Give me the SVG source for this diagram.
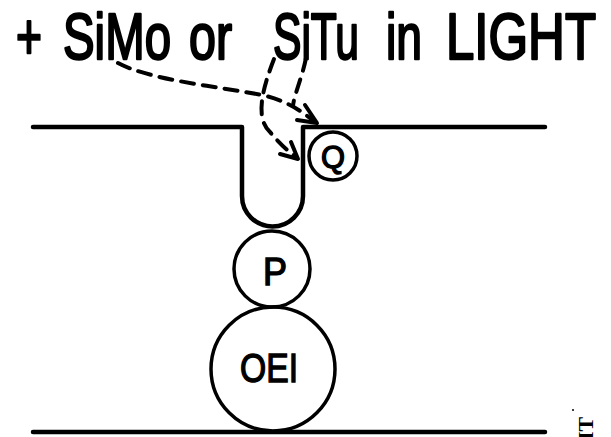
<svg xmlns="http://www.w3.org/2000/svg" width="611" height="437" viewBox="0 0 611 437">
  <style>
    .wall { fill: none; stroke: #000; stroke-width: 4.5; stroke-linecap: round; stroke-linejoin: round; }
    .ring { fill: none; stroke: #000; stroke-width: 3.5; }
    .dash { fill: none; stroke: #000; stroke-width: 4; stroke-linecap: round; stroke-dasharray: 13 9; }
    .head { fill: none; stroke: #000; stroke-width: 4; stroke-linecap: round; stroke-linejoin: round; }
    .title { font-family: "Liberation Sans", Arial, sans-serif; font-size: 64px; fill: #000; stroke: #000; stroke-width: 2.4; stroke-linejoin: round; }
    .lbl { font-family: "Liberation Sans", Arial, sans-serif; fill: #000; stroke: #000; stroke-width: 1.4; text-anchor: middle; }
  </style>

  <!-- heading -->
  <g id="title">
    <text class="title" x="16" y="59" textLength="26" lengthAdjust="spacingAndGlyphs">+</text>
    <text class="title" x="63" y="59" textLength="108" lengthAdjust="spacingAndGlyphs">SiMo</text>
    <text class="title" x="189" y="59" textLength="43" lengthAdjust="spacingAndGlyphs">or</text>
    <text class="title" x="273" y="59" textLength="86" lengthAdjust="spacingAndGlyphs">SiTu</text>
    <text class="title" x="386" y="59" textLength="36" lengthAdjust="spacingAndGlyphs">in</text>
    <text class="title" x="446" y="59" textLength="150" lengthAdjust="spacingAndGlyphs">LIGHT</text>
  </g>

  <!-- upper surface with trough -->
  <g id="surface-top">
    <path class="wall" d="M33,127 H242 V196 A30.5,30.5 0 0 0 303,196 V127 H545"/>
  </g>

  <!-- lower surface -->
  <g id="surface-bottom">
    <path class="wall" d="M33,432 H545"/>
  </g>

  <g id="node-Q">
    <circle class="ring" cx="333" cy="156" r="24"/>
    <text class="lbl" x="333" y="168" font-size="32" textLength="24" lengthAdjust="spacingAndGlyphs">Q</text>
  </g>

  <g id="node-P">
    <circle class="ring" cx="272" cy="269" r="38"/>
    <text class="lbl" x="275" y="285" font-size="38" textLength="24" lengthAdjust="spacingAndGlyphs">P</text>
  </g>

  <g id="node-OEI">
    <circle class="ring" cx="273" cy="369" r="62"/>
    <text class="lbl" x="269" y="382" font-size="41" textLength="58" lengthAdjust="spacingAndGlyphs">OEI</text>
  </g>

  <!-- dashed pathways -->
  <g id="connectors">
    <path class="dash" d="M118,63 C150,80 215,86 262,95 C285,100 300,110 314,121"/>
    <path class="dash" d="M306,58 C302,78 294,95 293,106"/>
    <path class="dash" d="M274,59 C262,90 255,118 270,132 C280,144 288,151 296,157"/>
    <path class="head" d="M305,105 L317,123 L297,120"/>
    <path class="head" d="M291,142 L298,159 L280,154"/>
  </g>

  <!-- edge mark -->
  <g id="edge-mark">
    <text transform="translate(593,440) rotate(-90)" font-family="Liberation Serif, serif" font-size="22" font-weight="bold" fill="#000">IT</text>
    <circle cx="573" cy="410" r="1" fill="#000"/>
  </g>
</svg>
